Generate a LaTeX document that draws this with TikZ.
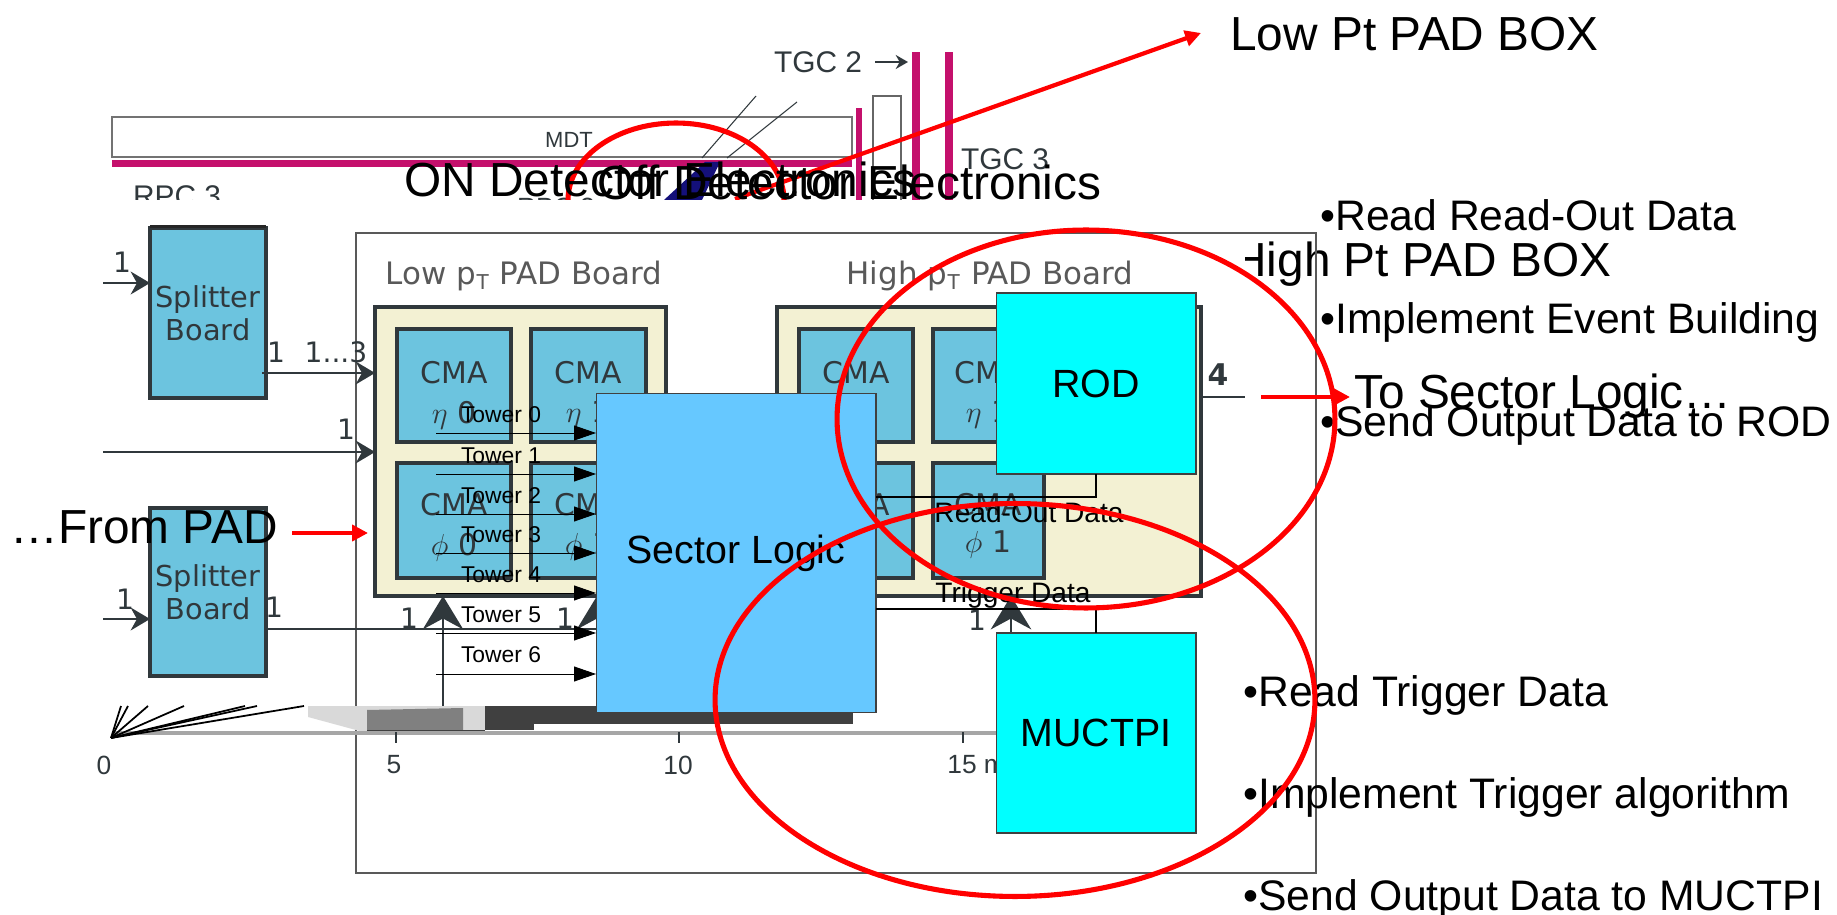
\documentclass[tikz,border=0pt]{standalone}
\usepackage{fontspec}
\setmainfont{Liberation Sans}
\newfontfamily\boardfont{DejaVu Sans}
\usetikzlibrary{arrows.meta,calc,shapes.geometric}
\definecolor{splitblue}{HTML}{6CC4DF}
\definecolor{padcream}{HTML}{F3F1D3}
\definecolor{sectorblue}{HTML}{66C8FF}
\definecolor{rodcyan}{HTML}{00FFFF}
\definecolor{rpcpink}{HTML}{C4106C}
\definecolor{scangray}{HTML}{30383C}
\definecolor{navyfill}{HTML}{14107A}
\begin{document}
\begin{tikzpicture}[
  x=0.02cm,y=-0.02cm,
  bigtxt/.style={font=\fontsize{27.2}{32}\selectfont,inner sep=0pt,anchor=base west},
  listtxt/.style={font=\fontsize{24.3}{30}\selectfont,inner sep=0pt,anchor=base west},
  block/.style={draw=black!75,line width=0.6pt,inner sep=0pt,outer sep=0pt,font=\fontsize{22.4}{27}\selectfont},
  split/.style={draw=scangray,fill=splitblue,line width=1.9pt,inner sep=0pt,outer sep=0pt,minimum width=2.32cm,align=center,text=scangray,font=\boardfont\fontsize{16.4}{18.8}\selectfont},
  pad/.style={draw=scangray,fill=padcream,line width=2pt,inner sep=0pt,outer sep=0pt,minimum height=5.78cm},
  cma/.style={draw=scangray,fill=splitblue,line width=2pt,inner sep=0pt,outer sep=0pt},
  scan/.style={text=scangray,inner sep=0pt},
  num/.style={scan,font=\boardfont\fontsize{16}{20}\selectfont},
  cmatxt/.style={scan,font=\boardfont\fontsize{17}{20}\selectfont},
  padtxt/.style={text=black!65,inner sep=0pt,font=\boardfont\fontsize{17.6}{22}\selectfont},
  tick/.style={scan,font=\fontsize{15}{18}\selectfont},
  lbl/.style={inner sep=0pt,font=\fontsize{16}{19}\selectfont},
  twlbl/.style={inner sep=0pt,font=\fontsize{13}{16}\selectfont},
  scanarr/.style={-{Stealth[length=11pt,width=13pt]},scangray,line width=1.3pt},
  uparr/.style={-{Stealth[length=19pt,width=23pt]},scangray,line width=1.5pt},
  twarr/.style={-{Triangle[length=12.5pt,width=8.5pt]},line width=0.5pt},
  link/.style={line width=0.8pt},
  redarr/.style={-{Triangle[length=9pt,width=9pt]},red,line width=2.4pt},
  redloop/.style={draw=red,line width=2.9pt}
]
\useasboundingbox (0,0) rectangle (1837,915);

% top of the chamber picture
\node[draw=black!55,line width=1.6pt,fill=white,minimum width=14.8cm,minimum height=0.8cm,inner sep=0pt] (mdt) at (482,137) {};
\node[scan,font=\fontsize{12.5}{14}\selectfont] (mdtlbl) at (569,140) {MDT};
\fill[rpcpink] (112,160) rectangle (852,167);
\fill[rpcpink] (856,108) rectangle (862,200);
\draw[black!60,line width=1.1pt] (873,200) -- (873,96) -- (901,96) -- (901,200);
\fill[rpcpink] (912,52) rectangle (920,200);
\fill[rpcpink] (945,52) rectangle (953,200);
\node[scan,font=\fontsize{17}{20}\selectfont] (tgctwo) at (818,62) {TGC 2};
\node[scan,font=\fontsize{17}{20}\selectfont] (tgcthree) at (1005,159) {TGC 3};
\node[scan,font=\fontsize{17}{20}\selectfont] (rpcthree) at (177,196) {RPC 3};
\node[scan,font=\fontsize{15}{18}\selectfont] (rpctwo) at (556,207) {RPC 2};
\coordinate (tgcfrom) at (875,62);
\draw[-{Stealth[length=7pt,width=8pt]},scangray,line width=1pt] (tgcfrom) -- (908,62);
\draw[scangray,line width=0.6pt] (702,158) -- (756,96);
\draw[scangray,line width=0.6pt] (727,158) -- (797,102);
\fill[navyfill] (664,200) -- (702,200) -- (720,162) -- (705,162) -- cycle;

% red ring and arrow, the lower picture cuts them off
\node[redloop,ellipse,minimum width=4.32cm,minimum height=3.08cm,inner sep=0pt] (onring) at (676,200) {};
\node[bigtxt] (lowbox) at (1230,51) {Low Pt PAD BOX};
\coordinate (lowfrom) at (735,199);
\coordinate (lowto) at (1201,33);
\draw[redarr] (lowfrom) -- (lowto);
\node[bigtxt] (highbox) at (1232,277) {High Pt PAD BOX};

% white ground of the lower picture
\fill[white] (100,200) rectangle (1245,706);
\node[draw=black!65,line width=0.8pt,inner sep=0pt,minimum width=19.2cm,minimum height=12.8cm] (frame) at (836,553) {};

% pad boards
\node[split,minimum height=3.4cm] (splitterA) at (208,313) {Splitter\\Board};
\node[split,minimum height=3.36cm] (splitterB) at (208,592) {Splitter\\Board};
\fill[black!85] (splitterA.north west) rectangle ($(splitterA.north east)+(0,-3)$);
\node[pad,minimum width=5.82cm] (lowpad) at (520.5,451.5) {};
\node[pad,minimum width=8.48cm] (highpad) at (989,451.5) {};
\foreach \nm/\cx/\cw in {a/454/2.28cm,b/588.5/2.3cm,c/856/2.28cm,d/988.5/2.22cm} {
  \node[cma,minimum width=\cw,minimum height=2.26cm] (cma\nm top) at (\cx,385.5) {};
  \node[cma,minimum width=\cw,minimum height=2.3cm] (cma\nm bot) at (\cx,520.5) {};
  \node[cmatxt] (cma\nm txta) at (\cx,373) {CMA};
  \node[cmatxt] (cma\nm txtb) at (\cx,505) {CMA};
}
\node[cmatxt] (etaa) at (454,415) {$\eta$ 0};
\node[cmatxt] (etab) at (588,415) {$\eta$ 1};
\node[cmatxt] (etac) at (856,415) {$\eta$ 0};
\node[cmatxt] (etad) at (988,415) {$\eta$ 1};
\node[cmatxt] (phia) at (454,547) {$\phi$ 0};
\node[cmatxt] (phib) at (588,547) {$\phi$ 1};
\node[cmatxt] (phic) at (856,545) {$\phi$ 0};
\node[cmatxt] (phid) at (988,545) {$\phi$ 1};
\node[padtxt] (lowtitle) at (524,276) {Low p$_{\mathrm{T}}$ PAD Board};
\node[padtxt] (hightitle) at (990,276) {High p$_{\mathrm{T}}$ PAD Board};

% scanned connectors
\coordinate (inA) at (103,283);
\coordinate (inB) at (103,619);
\coordinate (inM) at (103,452);
\coordinate (outA) at (262,373);
\coordinate (outB) at (266,629);
\coordinate (upA) at (443,706);
\coordinate (upB) at (597,706);
\coordinate (upC) at (1011,706);
\coordinate (outH) at (1245,397);
\draw[scanarr] (inA) -- (inA -| splitterA.west);
\draw[scanarr] (inB) -- (inB -| splitterB.west);
\draw[scanarr] (inM) -- (inM -| lowpad.west);
\draw[scanarr] (outA) -- (outA -| lowpad.west);
\draw[scangray,line width=1.3pt] (outB) -- (596,629);
\draw[uparr] (upA) -- (upA |- lowpad.south);
\draw[uparr] (upB) -- (upB |- lowpad.south);
\draw[uparr] (upC) -- (upC |- highpad.south);
\draw[scangray,line width=1.3pt] (highpad.east |- outH) -- (outH);
\node[num] (n1) at (122,262) {1};
\node[num] (n2) at (346,429) {1};
\node[num] (n3) at (125,599) {1};
\node[num] (n4) at (276,352) {1};
\node[num] (n5) at (336,352) {1...3};
\node[num] (n6) at (274,607) {1};
\node[num] (n7) at (409,618) {1};
\node[num] (n8) at (565,618) {1};
\node[num] (n9) at (977,620) {1};
\node[num,font=\boardfont\bfseries\fontsize{17}{20}\selectfont] (n10) at (1218,375) {4};

% ruler along the bottom
\fill[black!15] (308,706) -- (308,717) -- (367,733) -- (485,733) -- (485,706) -- cycle;
\fill[black!50] (367,710) -- (463,708) -- (463,730) -- (367,730) -- cycle;
\fill[black!75] (367,730) rectangle (485,733);
\fill[black!75] (485,706) rectangle (534,730);
\fill[black!75] (534,706) rectangle (853,724);
\draw[black!35,line width=1.8pt] (112,733) -- (1000,733);
\foreach \tx in {121,128,148,184,245,257,304}
  \draw[black,line width=1pt] (111,738) -- (\tx,706);
\foreach \tx in {396,679,963}
  \draw[scangray,line width=0.7pt] (\tx,732) -- (\tx,743);
\node[tick] (r0) at (104,765) {0};
\node[tick] (r5) at (394,765) {5};
\node[tick] (r10) at (678,765) {10};
\node[tick,anchor=west] (r15) at (947,765) {15 m};

% logic blocks
\node[block,fill=sectorblue,minimum width=5.6cm,minimum height=6.4cm] (sector) at (736,553) {Sector Logic};
\node[block,fill=rodcyan,minimum width=4cm,minimum height=3.62cm] (rod) at (1096,383.5) {ROD};
\node[block,fill=rodcyan,minimum width=4cm,minimum height=4cm] (muctpi) at (1096,733) {MUCTPI};

% tower inputs
\foreach \i/\ya/\yb in {0/433/415,1/474/456,2/514/496,3/553/535,4/593/575,5/633/615,6/674/655} {
  \coordinate (tw\i) at (436,\ya);
  \node[twlbl] (twl\i) at (501,\yb) {Tower \i};
  \draw[twarr] (tw\i) -- (tw\i -| sector.west);
}

% read-out and trigger links
\coordinate (rdbend) at (1096,497);
\coordinate (trbend) at (1096,609);
\draw[link] (rod.south) -- (rdbend) -- (rdbend -| sector.east);
\draw[link] (muctpi.north) -- (trbend) -- (trbend -| sector.east);
\node[lbl] (rdlbl) at (1029,512) {Read-Out Data};
\node[lbl] (trlbl) at (1013,595) {Trigger Data};

% captions
\node[bigtxt] (ondet) at (404,197) {ON Detector Electronics};
\node[bigtxt] (offdet) at (597,200) {Off Detector Electronics};
\node[bigtxt] (frompad) at (10,543) {…From PAD};
\node[bigtxt] (tosl) at (1354,409) {To Sector Logic…};
\coordinate (padfrom) at (292,533);
\coordinate (padto) at (368,533);
\coordinate (slfrom) at (1261,397);
\coordinate (slto) at (1350,397);
\draw[redarr] (padfrom) -- (padto);
\draw[redarr] (slfrom) -- (slto);

\node[listtxt] (offa) at (1320,231) {•Read Read-Out Data};
\node[listtxt] (offb) at (1320,334) {•Implement Event Building};
\node[listtxt] (offc) at (1320,437) {•Send Output Data to ROD};
\node[listtxt] (trga) at (1243,706) {•Read Trigger Data};
\node[listtxt] (trgb) at (1243,808) {•Implement Trigger algorithm};
\node[listtxt] (trgc) at (1243,910) {•Send Output Data to MUCTPI};

% red rings
\node[redloop,ellipse,minimum width=9.96cm,minimum height=7.56cm,inner sep=0pt] (highring) at (1086,419) {};
\node[redloop,ellipse,minimum width=12cm,minimum height=7.86cm,inner sep=0pt] (trigring) at (1015,700) {};
\end{tikzpicture}
\end{document}
